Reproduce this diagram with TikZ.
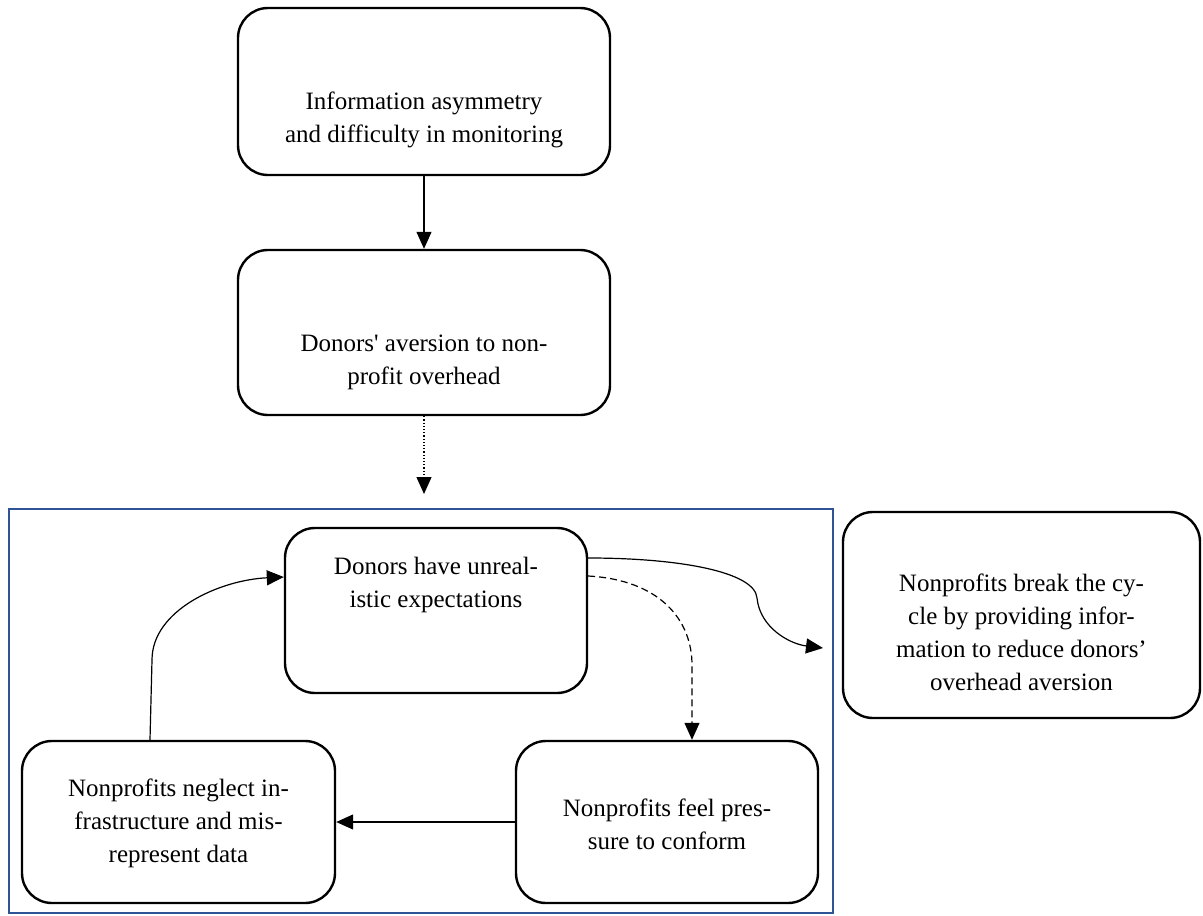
\documentclass[tikz,border=0pt]{standalone}
\usepackage{fontspec}
\setmainfont{Liberation Serif}
\usetikzlibrary{arrows.meta}
\definecolor{frameblue}{HTML}{2F5496}
\tikzset{
  box/.style={draw, line width=2.4pt, rounded corners=30pt, inner sep=0pt},
  txt/.style={align=center, font=\fontsize{25}{33}\selectfont, inner sep=0pt},
  conn/.style={line width=1.2pt, -{Triangle[length=17pt,width=15pt]}},
}
\begin{document}
\begin{tikzpicture}[x=1pt,y=-1pt]
\useasboundingbox (0,0) rectangle (1203,916);
\fill[white] (0,0) rectangle (1203,916);
\draw[frameblue, line width=2pt] (9,509) rectangle (833,913);

\node[box, minimum width=372pt, minimum height=167pt] (b1) at (424,91.5) {};
\node[txt] (t1) at (424,120) {Information asymmetry\\and difficulty in monitoring};

\node[box, minimum width=372pt, minimum height=165pt] (b2) at (424,332.5) {};
\node[txt] (t2) at (424,362) {Donors\textquotesingle{} aversion to non-\\profit overhead};

\node[box, minimum width=302pt, minimum height=165pt] (b3) at (436,610.5) {};
\node[txt] (t3) at (436,585) {Donors have unreal-\\istic expectations};

\node[box, minimum width=313pt, minimum height=162pt] (b4) at (178.5,822) {};
\node[txt] (t4) at (178.5,823) {Nonprofits neglect in-\\frastructure and mis-\\represent data};

\node[box, minimum width=302pt, minimum height=162pt] (b5) at (667,822) {};
\node[txt] (t5) at (667,824) {Nonprofits feel pres-\\sure to conform};

\node[box, minimum width=357pt, minimum height=206pt] (b6) at (1021.5,615) {};
\node[txt] (t6) at (1021.5,632) {Nonprofits break the cy-\\cle by providing infor-\\mation to reduce donors’\\overhead aversion};

\coordinate (d2) at (424,494);
\coordinate (c6) at (823,648);

\draw[conn] (b1.south) -- (b2.north);
\draw[conn, dotted] (b2.south) -- (d2);
\draw[conn] ([yshift=52.5pt]b3.east) .. controls (680,558) and (755,572) .. (757,598)
   .. controls (760,628) and (790,644) .. (c6);
\draw[conn, dash pattern=on 7pt off 4pt] ([yshift=34.5pt]b3.east) .. controls (660,580) and (692,620) .. (692,665) -- ([xshift=25pt]b5.north);
\draw[conn] ([xshift=-28.5pt]b4.north) -- (152,660) .. controls (152,610) and (220,580) .. ([yshift=33.5pt]b3.west);
\draw[conn] (b5.west) -- (b4.east);
\end{tikzpicture}
\end{document}
